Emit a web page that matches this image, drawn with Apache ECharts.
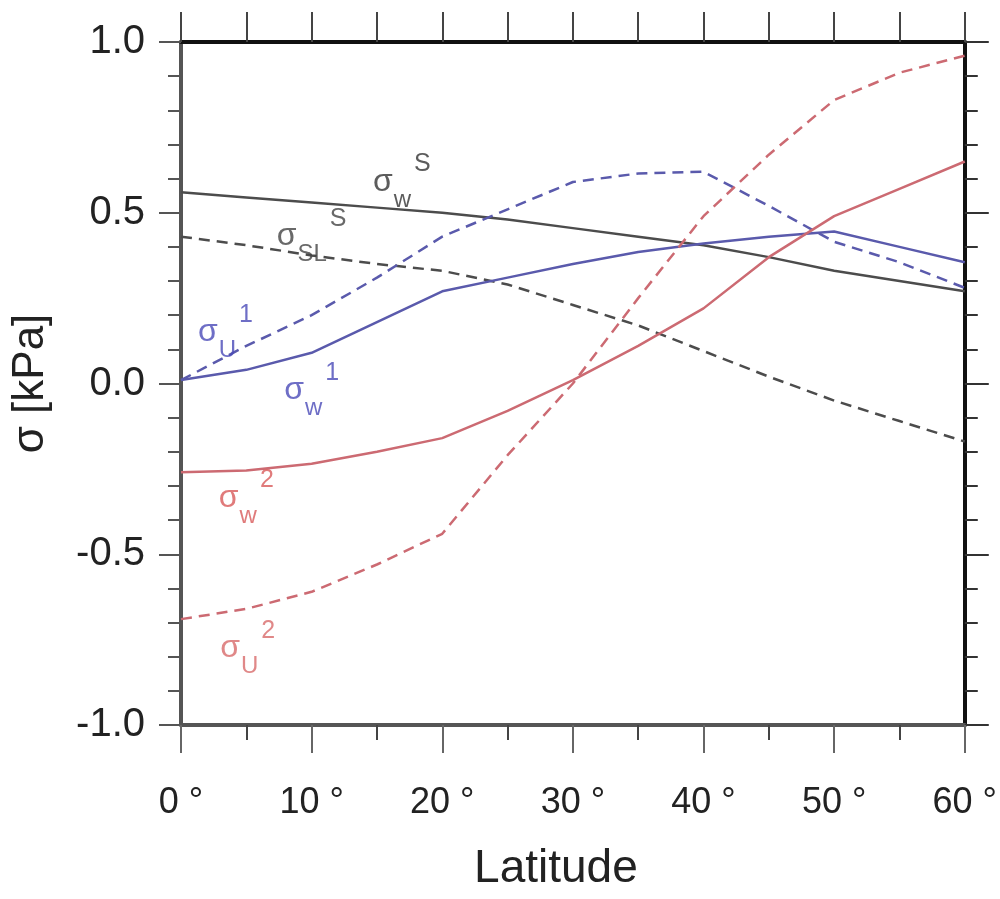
<!DOCTYPE html>
<html>
<head>
<meta charset="utf-8">
<script src="https://cdn.jsdelivr.net/npm/echarts@6.0.0/dist/echarts.min.js"></script>
<style>
  html, body { margin: 0; padding: 0; background: #fff; }
  #chart { width: 1000px; height: 899px; }
</style>
</head>
<body>
<div id="chart"></div>
<script>
// latitude in degrees, one point every 5 deg
const latitudes = [0, 5, 10, 15, 20, 25, 30, 35, 40, 45, 50, 55, 60];

// sigma values, kPa
const sigmaWs  = [0.56, 0.545, 0.53, 0.515, 0.50, 0.48, 0.455, 0.43, 0.405, 0.37, 0.33, 0.30, 0.27];
const sigmaSLs = [0.43, 0.405, 0.375, 0.35, 0.33, 0.29, 0.23, 0.17, 0.095, 0.02, -0.05, -0.11, -0.17];
const sigmaU1  = [0.01, 0.11, 0.20, 0.31, 0.43, 0.51, 0.59, 0.615, 0.62, 0.52, 0.415, 0.355, 0.28];
const sigmaW1  = [0.01, 0.04, 0.09, 0.18, 0.27, 0.31, 0.35, 0.385, 0.41, 0.43, 0.445, 0.40, 0.355];
const sigmaW2  = [-0.26, -0.255, -0.235, -0.20, -0.16, -0.08, 0.01, 0.11, 0.22, 0.37, 0.49, 0.57, 0.65];
const sigmaU2  = [-0.69, -0.66, -0.61, -0.53, -0.44, -0.21, 0.0, 0.25, 0.49, 0.67, 0.83, 0.91, 0.96];

// curve labels: sub / sup text and the [lat, sigma] they sit at
const curveLabels = [
  { sub: 'w',  sup: 'S', at: [16.9, 0.59],   color: '#333' },
  { sub: 'SL', sup: 'S', at: [10.0, 0.43],   color: '#444' },
  { sub: 'U',  sup: '1', at: [3.4, 0.15],    color: '#4a4ab8' },
  { sub: 'w',  sup: '1', at: [10.0, -0.02],  color: '#4a4ab8' },
  { sub: 'w',  sup: '2', at: [5.0, -0.335],  color: '#d85a5a' },
  { sub: 'U',  sup: '2', at: [5.1, -0.775],  color: '#d86a6a' }
];

const BLACK = '#4c4c4c';
const BLUE = '#5a5aac';
const RED = '#cc6a72';
const FONT = "'Liberation Sans', Arial, Helvetica, sans-serif";

function pairs(vals) {
  return latitudes.map((lat, i) => [lat, vals[i]]);
}

function curve(name, vals, color, dashed) {
  return {
    name: name,
    type: 'line',
    data: pairs(vals),
    showSymbol: false,
    smooth: false,
    silent: true,
    lineStyle: { color: color, width: 2.5, type: dashed ? [11, 7] : 'solid' },
    z: 3
  };
}

const chart = echarts.init(document.getElementById('chart'));

const option = {
  backgroundColor: '#fff',
  animation: false,
  textStyle: { fontFamily: FONT },
  grid: { left: 181, right: 35, top: 42, bottom: 174 },
  xAxis: [
    {
      type: 'value',
      position: 'bottom',
      min: 0, max: 60, interval: 10,
      axisLine: { show: true, onZero: false, lineStyle: { color: '#555', width: 4 } },
      axisTick: { show: true, length: 28, lineStyle: { color: '#666', width: 2 } },
      minorTick: { show: true, splitNumber: 2, length: 15, lineStyle: { color: '#444', width: 2 } },
      splitLine: { show: false },
      axisLabel: {
        formatter: v => v + ' °',
        fontSize: 36, color: '#222', margin: 60, fontFamily: FONT
      },
      name: 'Latitude',
      nameLocation: 'middle',
      nameGap: 121,
      nameTextStyle: { fontSize: 46, color: '#222', fontFamily: FONT, padding: [0, 34, 0, 0] }
    },
    {
      type: 'value',
      position: 'top',
      min: 0, max: 60, interval: 5,
      axisLine: { show: true, onZero: false, lineStyle: { color: '#111', width: 4 } },
      axisTick: { show: true, length: 30, lineStyle: { color: '#444', width: 2 } },
      axisLabel: { show: false },
      splitLine: { show: false }
    }
  ],
  yAxis: [
    {
      type: 'value',
      position: 'left',
      min: -1, max: 1, interval: 0.5,
      axisLine: { show: true, onZero: false, lineStyle: { color: '#555', width: 4 } },
      axisTick: { show: true, length: 22, lineStyle: { color: '#555', width: 2 } },
      minorTick: { show: true, splitNumber: 5, length: 13, lineStyle: { color: '#555', width: 2 } },
      splitLine: { show: false },
      axisLabel: {
        formatter: v => v.toFixed(1),
        fontSize: 40, color: '#222', margin: 36, fontFamily: FONT
      },
      name: 'σ [kPa]',
      nameLocation: 'middle',
      nameRotate: 90,
      nameGap: 128,
      nameTextStyle: { fontSize: 44, color: '#222', fontFamily: FONT }
    },
    {
      type: 'value',
      position: 'right',
      min: -1, max: 1, interval: 0.5,
      axisLine: { show: true, onZero: false, lineStyle: { color: '#111', width: 4 } },
      axisTick: { show: true, length: 24, lineStyle: { color: '#333', width: 2 } },
      minorTick: { show: true, splitNumber: 5, length: 13, lineStyle: { color: '#333', width: 2 } },
      splitLine: { show: false },
      axisLabel: { show: false }
    }
  ],
  series: [
    curve('sigma_w_s', sigmaWs, BLACK, false),
    curve('sigma_SL_s', sigmaSLs, BLACK, true),
    curve('sigma_U_1', sigmaU1, BLUE, true),
    curve('sigma_w_1', sigmaW1, BLUE, false),
    curve('sigma_w_2', sigmaW2, RED, false),
    curve('sigma_U_2', sigmaU2, RED, true),
    {
      name: 'labels',
      type: 'scatter',
      symbolSize: 0,
      silent: true,
      z: 5,
      data: curveLabels.map(l => ({
        value: l.at,
        label: {
          show: true,
          position: 'inside',
          color: l.color,
          formatter: '{s|σ}{b|' + l.sub + '}{p|' + l.sup + '}',
          rich: {
            s: { fontSize: 32, lineHeight: 60, verticalAlign: 'middle', color: l.color, fontFamily: FONT },
            b: { fontSize: 24, lineHeight: 36, verticalAlign: 'bottom', color: l.color, fontFamily: FONT, padding: [0, 3, 0, 1] },
            p: { fontSize: 25, lineHeight: 24, verticalAlign: 'top', color: l.color, fontFamily: FONT }
          }
        }
      }))
    }
  ]
};

chart.setOption(option);
</script>
</body>
</html>
